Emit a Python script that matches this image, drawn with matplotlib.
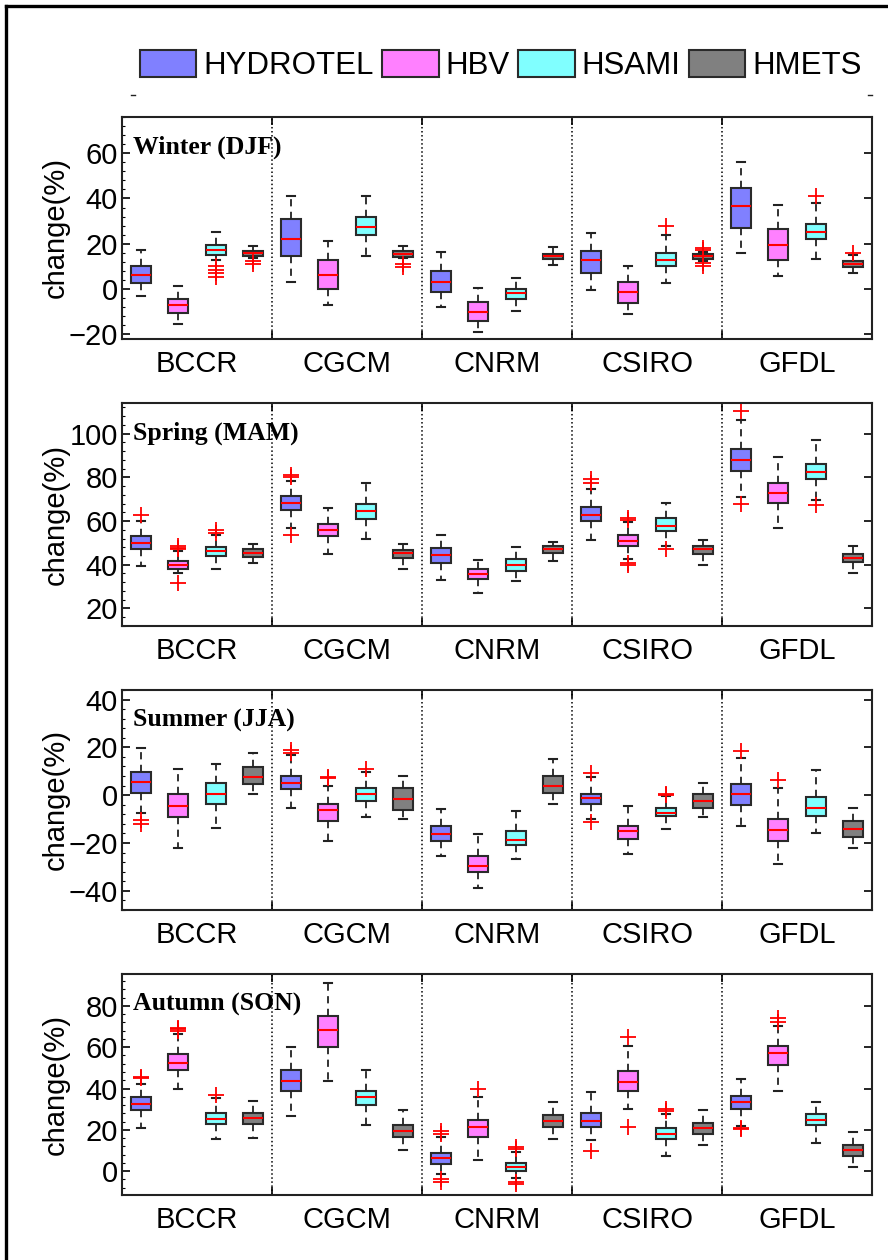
import matplotlib
matplotlib.use('Agg')
import matplotlib.pyplot as plt
from matplotlib.patches import Patch
from matplotlib.lines import Line2D
from matplotlib.ticker import AutoMinorLocator

plt.rcParams['font.family'] = ['Liberation Sans', 'DejaVu Sans']

gcms = ['BCCR', 'CGCM', 'CNRM', 'CSIRO', 'GFDL']
models = ['HYDROTEL', 'HBV', 'HSAMI', 'HMETS']
model_colors = ['#8080FF', '#FF80FF', '#80FFFF', '#808080']

# order: for each GCM -> HYDROTEL, HBV, HSAMI, HMETS
djf_med = [6.3, -7.2, 17.1, 15.8, 22.1, 6.3, 27.5, 15.5, 3.2, -10.1, -1.8, 14.5, 12.7, -1.2, 12.9, 14.5, 36.5, 19.6, 25.1, 11.0]
djf_q1 = [2.6, -10.4, 15.2, 14.7, 14.7, 0.0, 23.7, 14.2, -1.3, -13.9, -4.2, 13.3, 7.3, -6.0, 10.4, 13.5, 27.1, 12.7, 22.0, 9.8]
djf_q3 = [10.0, -4.2, 19.3, 16.8, 30.8, 12.9, 31.8, 16.8, 8.1, -5.9, 0.1, 15.4, 16.7, 3.2, 16.0, 15.4, 44.5, 26.4, 28.9, 12.2]
djf_lo = [-3.1, -15.2, 13.0, 13.9, 3.2, -7.2, 14.8, 13.8, -7.9, -18.8, -9.5, 10.5, -0.4, -10.8, 2.6, 12.5, 16.0, 5.7, 13.5, 6.9]
djf_hi = [17.1, 1.3, 25.0, 19.0, 40.9, 21.4, 40.9, 19.0, 16.4, 0.7, 5.0, 18.5, 24.6, 10.1, 24.0, 16.5, 56.1, 37.2, 37.8, 15.0]
djf_out = [[], [], [10, 8.5, 7, 5.5], [12.2, 11],
           [], [], [], [11.3, 9.8],
           [], [], [], [],
           [], [], [28], [18.2, 17.3, 11.7, 10.2],
           [], [], [40.9], [16.1]]

mam_med = [50.0, 39.8, 46.5, 45.6, 68.4, 55.8, 64.6, 45.3, 44.3, 35.6, 40.0, 47.3, 62.8, 51.0, 57.9, 47.3, 88.1, 72.9, 82.3, 43.2]
mam_q1 = [47.3, 37.9, 43.8, 43.5, 65.1, 53.1, 61.1, 42.9, 40.9, 33.5, 37.3, 45.5, 59.9, 48.7, 55.5, 44.9, 82.9, 68.3, 79.1, 41.2]
mam_q3 = [53.2, 41.8, 48.2, 47.0, 71.6, 58.6, 68.0, 46.8, 47.6, 38.0, 42.4, 48.8, 66.6, 53.4, 61.4, 48.8, 92.9, 77.3, 86.1, 44.9]
mam_lo = [39.2, 36.0, 38.0, 40.6, 57.0, 45.0, 51.9, 37.9, 33.0, 27.2, 32.4, 41.8, 51.4, 42.4, 48.8, 39.7, 70.9, 57.0, 69.7, 36.0]
mam_hi = [60.2, 46.5, 53.4, 49.6, 78.5, 65.9, 77.3, 49.6, 53.8, 42.3, 48.0, 50.6, 74.7, 59.5, 68.4, 51.3, 106.3, 89.1, 97.0, 48.8]
mam_out = [[62.8], [48.5, 47.8, 47.2, 31.5], [55.7, 54.6], [],
           [81.2, 80.2, 53.7], [], [], [],
           [], [], [], [],
           [79, 77.3], [61.4, 60.5, 40.8, 40], [47], [],
           [110.3, 67.8], [], [67.2], []]

jja_med = [5.7, -4.6, 0.6, 7.7, 5.2, -6.4, 0.6, -1.8, -16.2, -29.5, -18.7, 4.0, -1.3, -15.1, -7.4, -2.4, 0.6, -14.5, -5.2, -14.1]
jja_q1 = [1.0, -9.3, -3.6, 4.6, 2.4, -10.6, -2.5, -6.0, -19.2, -32.1, -21.0, 1.0, -3.6, -18.3, -8.9, -5.3, -4.2, -19.2, -8.8, -17.6]
jja_q3 = [9.8, 0.4, 5.0, 11.6, 7.9, -3.5, 2.9, 2.9, -12.8, -25.5, -15.1, 8.1, 0.6, -12.7, -5.3, 0.6, 4.6, -9.9, -0.6, -10.6]
jja_lo = [-7.5, -22.0, -13.9, 0.6, -5.3, -19.2, -9.3, -9.9, -25.5, -38.9, -26.8, -3.5, -9.8, -24.4, -14.1, -9.3, -13.0, -28.6, -15.7, -22.0]
jja_hi = [19.7, 11.1, 13.2, 17.8, 16.7, 3.9, 9.5, 7.9, -5.6, -16.3, -6.6, 15.2, 7.7, -4.6, -0.3, 4.9, 15.6, 2.9, 10.5, -5.4]
jja_out = [[-10.5, -12], [], [], [],
           [19, 17.5], [7.7, 7.2], [11.1], [],
           [], [], [], [],
           [9.2, -11.1], [], [0.7, 0.2], [],
           [18.4], [6.3], [], []]

son_med = [32.3, 52.3, 25.4, 25.7, 43.8, 68.5, 35.7, 19.4, 6.5, 21.5, 1.9, 24.2, 24.2, 43.0, 17.9, 20.7, 33.6, 57.2, 24.7, 10.0]
son_q1 = [29.4, 48.9, 22.8, 22.8, 38.8, 60.3, 32.1, 16.6, 3.2, 16.6, -0.2, 21.3, 21.3, 38.9, 15.3, 18.1, 30.2, 51.5, 22.1, 7.3]
son_q3 = [35.7, 56.5, 28.3, 28.3, 48.9, 75.1, 38.9, 22.3, 8.7, 24.9, 4.0, 27.0, 28.3, 48.5, 21.0, 23.4, 36.3, 60.6, 27.6, 12.6]
son_lo = [20.7, 39.6, 15.3, 16.2, 26.8, 43.6, 22.1, 10.0, -1.5, 5.3, -3.5, 15.3, 15.0, 30.2, 7.4, 12.6, 22.0, 38.9, 13.4, 1.8]
son_hi = [42.2, 66.4, 35.4, 34.1, 60.3, 91.3, 48.9, 29.4, 16.5, 35.7, 9.0, 33.4, 38.3, 60.6, 27.6, 29.6, 44.4, 70.4, 33.4, 18.7]
son_out = [[45.7, 44.9], [69.5, 68.7, 67.7], [36.8], [],
           [], [], [], [],
           [19.4, 18, -4, -5.5], [39.7], [11.8, 10.8, -5.5, -6.5], [],
           [9.9], [65.1, 21.5], [30, 29.2], [],
           [21, 20.3], [74, 72.4], [], []]

seasons = ['Winter (DJF)', 'Spring (MAM)', 'Summer (JJA)', 'Autumn (SON)']
season_data = [
    (djf_med, djf_q1, djf_q3, djf_lo, djf_hi, djf_out),
    (mam_med, mam_q1, mam_q3, mam_lo, mam_hi, mam_out),
    (jja_med, jja_q1, jja_q3, jja_lo, jja_hi, jja_out),
    (son_med, son_q1, son_q3, son_lo, son_hi, son_out),
]
ylims = [(-22, 76), (12, 114), (-48, 44), (-11.6, 95.5)]
yticks = [[-20, 0, 20, 40, 60], [20, 40, 60, 80, 100], [-40, -20, 0, 20, 40], [0, 20, 40, 60, 80]]

fig = plt.figure(figsize=(8.88, 12.6), dpi=100)

# panel positions (left, bottom, width, height) in figure fraction
ax_pos = [
    [0.1374, 0.7310, 0.8446, 0.1762],
    [0.1374, 0.5032, 0.8446, 0.1770],
    [0.1374, 0.2778, 0.8446, 0.1746],
    [0.1374, 0.0516, 0.8446, 0.1754],
]

fs = 21
positions = list(range(1, 21))

for i in range(4):
    ax = fig.add_axes(ax_pos[i])
    med, q1, q3, lo, hi, out = season_data[i]
    stats = []
    for k in range(20):
        stats.append(dict(med=med[k], q1=q1[k], q3=q3[k], whislo=lo[k], whishi=hi[k], fliers=out[k]))
    bp = ax.bxp(stats, positions=positions, widths=0.53, capwidths=0.22,
                patch_artist=True, showfliers=True,
                boxprops=dict(edgecolor='#2a2a2a', linewidth=1.5),
                whiskerprops=dict(color='#222222', linestyle=(0, (4, 3)), linewidth=1.3),
                capprops=dict(color='#222222', linewidth=1.5),
                medianprops=dict(color='red', linewidth=1.5),
                flierprops=dict(marker='+', markeredgecolor='red', markersize=11,
                                markeredgewidth=1.3, linestyle='none'))
    for k, box in enumerate(bp['boxes']):
        box.set_facecolor(model_colors[k % 4])

    for xs in [4.5, 8.5, 12.5, 16.5]:
        ax.axvline(xs, color='black', linestyle=':', linewidth=1.1, zorder=0)

    ax.set_xlim(0.5, 20.5)
    ax.set_ylim(*ylims[i])
    ax.set_xticks([2.5, 6.5, 10.5, 14.5, 18.5])
    ax.set_xticklabels(gcms)
    ax.set_xticks([4.5, 8.5, 12.5, 16.5], minor=True)
    ax.set_yticks(yticks[i])
    ax.yaxis.set_minor_locator(AutoMinorLocator(5))
    ax.tick_params(axis='x', which='major', length=0, pad=8, labelsize=fs)
    ax.tick_params(axis='x', which='minor', direction='in', top=True, bottom=True, length=6, width=1.2)
    ax.tick_params(axis='y', which='major', direction='in', left=True, right=True, length=6, width=1.2, labelsize=fs, pad=3)
    ax.tick_params(axis='y', which='minor', direction='in', left=True, right=False, length=2.5, width=0.8)
    for sp in ax.spines.values():
        sp.set_linewidth(1.5)
        sp.set_color('#222222')

    ax.set_ylabel('change(%)', fontsize=fs)
    ax.yaxis.set_label_coords(-0.07, 0.5)
    ax.text(0.015, 0.915, seasons[i], transform=ax.transAxes, ha='left', va='top',
            fontsize=18.5, fontweight='bold', family='Liberation Serif')

handles = [Patch(facecolor=c, edgecolor='#2a2a2a', linewidth=1.5) for c in model_colors]
fig.legend(handles, models, loc='center', bbox_to_anchor=(0.564, 0.948), ncol=4,
           frameon=False, fontsize=22.5, handlelength=1.8, handleheight=0.95,
           handletextpad=0.22, columnspacing=0.28, borderaxespad=0)

# small marks left over from the legend axes
for x0 in [0.1475, 0.9775]:
    fig.add_artist(Line2D([x0, x0 + 0.005], [0.9246, 0.9246], transform=fig.transFigure,
                          color='#222222', linewidth=1))

# figure frame (left and top edges)
fig.add_artist(Line2D([0.0068, 0.0068], [0.0, 0.9952], transform=fig.transFigure, color='black', linewidth=2.4))
fig.add_artist(Line2D([0.0068, 1.0], [0.9952, 0.9952], transform=fig.transFigure, color='black', linewidth=2.4))

fig.savefig('out.png', dpi=100)
